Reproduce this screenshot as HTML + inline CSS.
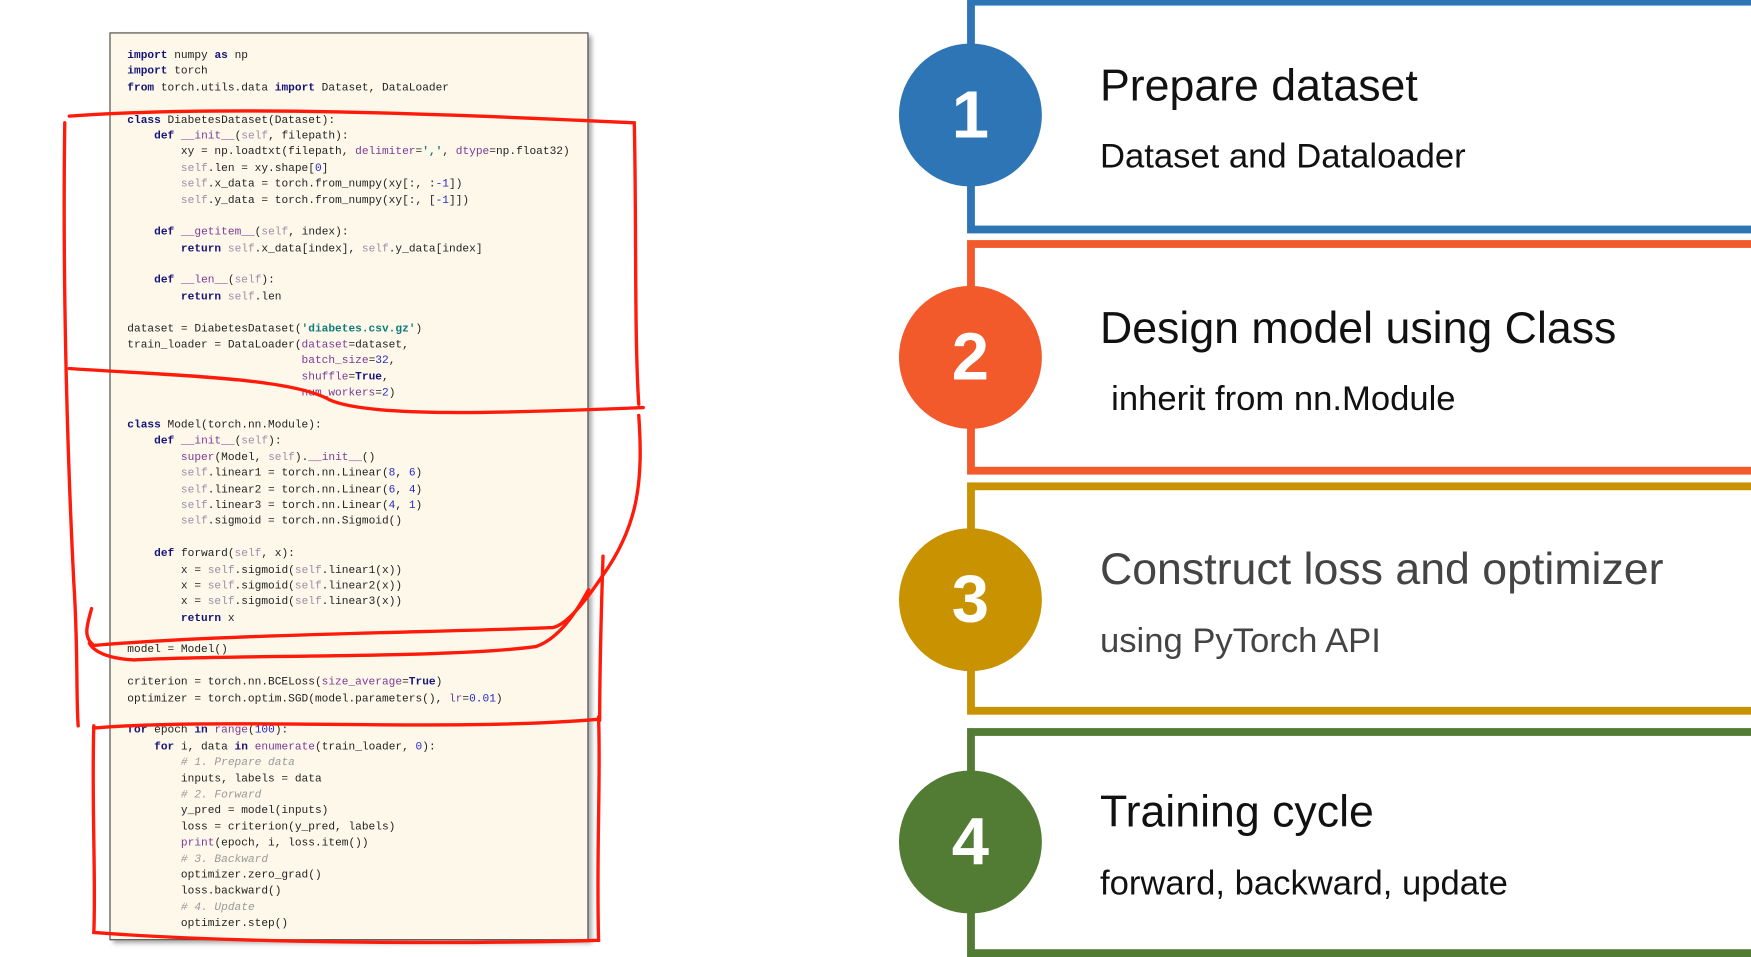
<!DOCTYPE html>
<html><head><meta charset="utf-8"><style>
html,body{margin:0;padding:0;background:#fff;width:1751px;height:957px;overflow:hidden}
#s{position:absolute;left:0;top:0;width:1568px;height:857px;transform:scale(1.11671);transform-origin:0 0}
.code{position:absolute;left:98px;top:29px;width:427px;height:811px;background:#fdf8ea;border:1.5px solid #444;box-shadow:3px 3px 4px rgba(0,0,0,.35)}
pre{position:absolute;left:114px;top:44px;margin:0;font-family:"Liberation Mono",monospace;font-size:10px;line-height:14.39px;color:#222}
.k{color:#14147a;font-weight:bold}.sf{color:#a08ca8}.n{color:#2828c8}.a{color:#7a3a96}.c{color:#999;font-style:italic}.st{color:#0f7a7a;font-weight:bold}
.box{position:absolute;left:866px;width:720px;box-sizing:border-box;border-style:solid;border-width:7px}
.circ{position:absolute;left:805px;width:128px;height:128px;border-radius:50%;color:#fff;font-family:"Liberation Sans",sans-serif;font-weight:bold;font-size:60px;text-align:center;line-height:128px}
.t{position:absolute;left:985px;font-family:"Liberation Sans",sans-serif;font-size:40px;color:#111;white-space:nowrap}
.u{position:absolute;left:985px;font-family:"Liberation Sans",sans-serif;font-size:31px;color:#111;white-space:nowrap}
</style></head><body><div id="s">
<div class="code"></div>
<pre><span class="k">import</span> numpy <span class="k">as</span> np
<span class="k">import</span> torch
<span class="k">from</span> torch.utils.data <span class="k">import</span> Dataset, DataLoader

<span class="k">class</span> DiabetesDataset(Dataset):
    <span class="k">def</span> <span class="a">__init__</span>(<span class="sf">self</span>, filepath):
        xy = np.loadtxt(filepath, <span class="a">delimiter</span>=<span class="st">','</span>, <span class="a">dtype</span>=np.float32)
        <span class="sf">self</span>.len = xy.shape[<span class="n">0</span>]
        <span class="sf">self</span>.x_data = torch.from_numpy(xy[:, :<span class="n">-1</span>])
        <span class="sf">self</span>.y_data = torch.from_numpy(xy[:, [<span class="n">-1</span>]])

    <span class="k">def</span> <span class="a">__getitem__</span>(<span class="sf">self</span>, index):
        <span class="k">return</span> <span class="sf">self</span>.x_data[index], <span class="sf">self</span>.y_data[index]

    <span class="k">def</span> <span class="a">__len__</span>(<span class="sf">self</span>):
        <span class="k">return</span> <span class="sf">self</span>.len

dataset = DiabetesDataset(<span class="st">'diabetes.csv.gz'</span>)
train_loader = DataLoader(<span class="a">dataset</span>=dataset,
                          <span class="a">batch_size</span>=<span class="n">32</span>,
                          <span class="a">shuffle</span>=<span class="k">True</span>,
                          <span class="a">num_workers</span>=<span class="n">2</span>)

<span class="k">class</span> Model(torch.nn.Module):
    <span class="k">def</span> <span class="a">__init__</span>(<span class="sf">self</span>):
        <span class="a">super</span>(Model, <span class="sf">self</span>).<span class="a">__init__</span>()
        <span class="sf">self</span>.linear1 = torch.nn.Linear(<span class="n">8</span>, <span class="n">6</span>)
        <span class="sf">self</span>.linear2 = torch.nn.Linear(<span class="n">6</span>, <span class="n">4</span>)
        <span class="sf">self</span>.linear3 = torch.nn.Linear(<span class="n">4</span>, <span class="n">1</span>)
        <span class="sf">self</span>.sigmoid = torch.nn.Sigmoid()

    <span class="k">def</span> forward(<span class="sf">self</span>, x):
        x = <span class="sf">self</span>.sigmoid(<span class="sf">self</span>.linear1(x))
        x = <span class="sf">self</span>.sigmoid(<span class="sf">self</span>.linear2(x))
        x = <span class="sf">self</span>.sigmoid(<span class="sf">self</span>.linear3(x))
        <span class="k">return</span> x

model = Model()

criterion = torch.nn.BCELoss(<span class="a">size_average</span>=<span class="k">True</span>)
optimizer = torch.optim.SGD(model.parameters(), <span class="a">lr</span>=<span class="n">0.01</span>)

<span class="k">for</span> epoch <span class="k">in</span> <span class="a">range</span>(<span class="n">100</span>):
    <span class="k">for</span> i, data <span class="k">in</span> <span class="a">enumerate</span>(train_loader, <span class="n">0</span>):
        <span class="c"># 1. Prepare data</span>
        inputs, labels = data
        <span class="c"># 2. Forward</span>
        y_pred = model(inputs)
        loss = criterion(y_pred, labels)
        <span class="a">print</span>(epoch, i, loss.item())
        <span class="c"># 3. Backward</span>
        optimizer.zero_grad()
        loss.backward()
        <span class="c"># 4. Update</span>
        optimizer.step()</pre>
<svg style="position:absolute;left:0;top:0" width="1568" height="857" viewBox="0 0 1568 857" fill="none" stroke="#ff1a0a" stroke-width="3" stroke-linecap="round">
<path d="M62,104 C200,94 400,102 568,110 C570,200 568,300 572,362"/>
<path d="M576,365 C450,370 330,374 295,358 C260,338 150,336 62,330"/>
<path d="M58,110 C56,250 60,400 66,520 C70,580 68,620 70,650"/>
<path d="M572,372 C576,430 572,470 540,515 C520,545 505,560 495,562 C400,566 200,568 84,578 C74,570 78,560 82,545"/>
<path d="M527,528 C515,550 500,572 480,579 C400,590 200,586 120,591 C100,590 85,585 80,576"/>
<path d="M540,498 C538,560 537,610 537,645"/>
<path d="M84,652 C200,642 400,656 536,644"/>
<path d="M84,650 C82,720 86,790 84,835 C200,844 400,846 536,842 C534,760 538,700 536,642"/>
</svg>
<div class="box" style="top:-2px;height:211px;border-color:#2e75b6"></div>
<div class="box" style="top:215px;height:210px;border-color:#f25a2c"></div>
<div class="box" style="top:432px;height:208px;border-color:#c89200"></div>
<div class="box" style="top:652px;height:205px;border-color:#527c33"></div>
<div class="circ" style="top:39px;background:#2e75b6">1</div>
<div class="circ" style="top:256px;background:#f25a2c">2</div>
<div class="circ" style="top:473px;background:#c89200">3</div>
<div class="circ" style="top:690px;background:#527c33">4</div>
<div class="t" style="top:55px">Prepare dataset</div>
<div class="u" style="top:122px">Dataset and Dataloader</div>
<div class="t" style="top:272px">Design model using Class</div>
<div class="u" style="top:339px;left:995px">inherit from nn.Module</div>
<div class="t" style="top:488px;color:#444">Construct loss and optimizer</div>
<div class="u" style="top:556px;color:#444">using PyTorch API</div>
<div class="t" style="top:705px">Training cycle</div>
<div class="u" style="top:773px">forward, backward, update</div>
</div></body></html>
